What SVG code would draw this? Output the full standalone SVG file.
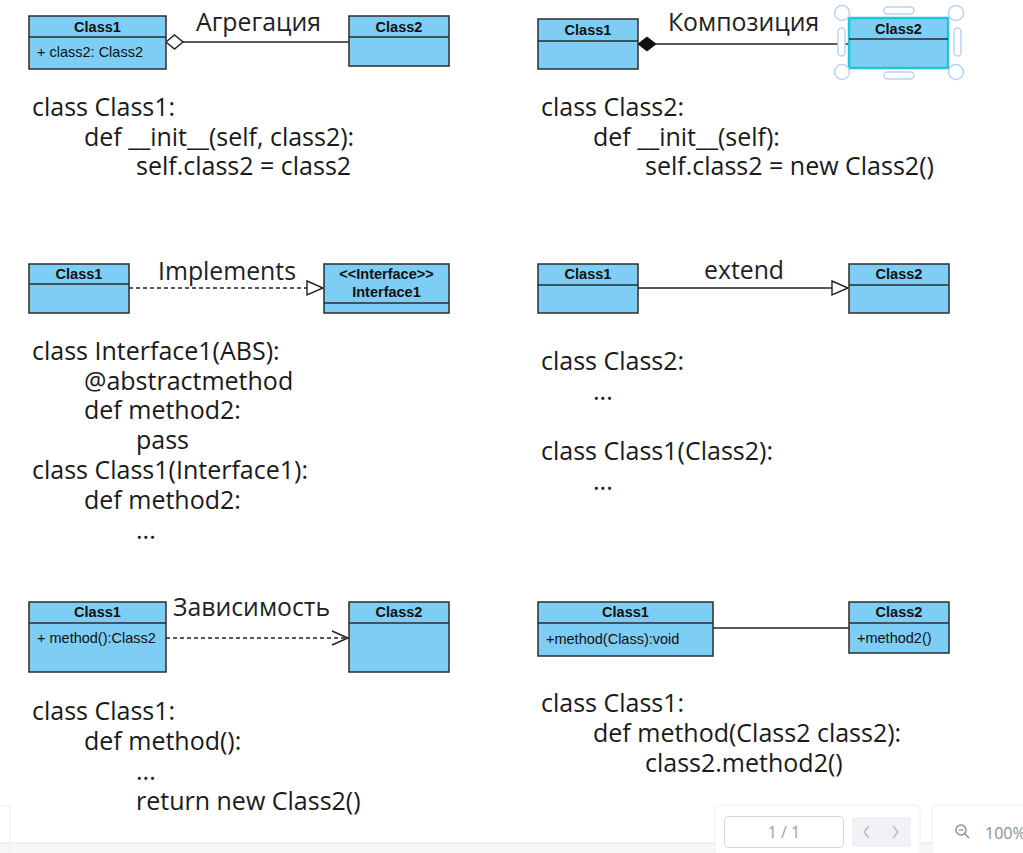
<svg xmlns="http://www.w3.org/2000/svg" width="1023" height="853" viewBox="0 0 1023 853">
<defs>
<style>
.box{fill:#7dcdf4;stroke:#2b2b2b;stroke-width:1.5}
.div{stroke:#2b2b2b;stroke-width:1.5}
.hd{font-family:"Liberation Sans",Arial,sans-serif;font-weight:bold;font-size:14.5px;fill:#111;text-anchor:middle}
.at{font-family:"Liberation Sans",Arial,sans-serif;font-size:14.5px;fill:#111}
.lbl{font-family:"Open Sans","Noto Sans",sans-serif;font-size:24.8px;fill:#222}
.code{font-family:"Open Sans","Noto Sans",sans-serif;font-size:25px;fill:#1a1a1a}
.ln{stroke:#222;stroke-width:1.4;fill:none}
.dash{stroke:#222;stroke-width:1.4;fill:none;stroke-dasharray:4,3}
.hdl{fill:#fff;stroke:#bcd3f2;stroke-width:1.5}
.ui{font-family:"Open Sans","Noto Sans",sans-serif;font-size:16px;fill:#9aa0a6}
</style>
<marker id="hollowTri" markerWidth="20" markerHeight="18" refX="17" refY="8" orient="auto" markerUnits="userSpaceOnUse">
<path d="M1,1 L17,8 L1,15 Z" fill="#fff" stroke="#222" stroke-width="1.4"/>
</marker>
<marker id="openArrow" markerWidth="20" markerHeight="18" refX="17" refY="8" orient="auto" markerUnits="userSpaceOnUse">
<path d="M1,1 L17,8 L1,15" fill="none" stroke="#222" stroke-width="1.4"/>
</marker>
</defs>
<rect width="1023" height="853" fill="#fff"/>

<g id="connectors">
<path class="ln" d="M183,42 L349,42"/>
<path d="M166,42 L174.5,35 L183,42 L174.5,49 Z" fill="#fff" stroke="#222" stroke-width="1.4"/>
<path class="ln" d="M656,44 L849,44"/>
<path d="M638,44 L647,37 L656,44 L647,51 Z" fill="#111" stroke="#111" stroke-width="1"/>
<path class="dash" d="M129,288 L323,288" marker-end="url(#hollowTri)"/>
<path class="ln" d="M638,288 L848,288" marker-end="url(#hollowTri)"/>
<path class="dash" d="M166,638 L348,638" marker-end="url(#openArrow)"/>
<path class="ln" d="M713,628 L849,628"/>
</g>

<g id="labels">
<text class="lbl" x="196" y="31">Агрегация</text>
<text class="lbl" x="668" y="31">Композиция</text>
<text class="lbl" x="158" y="280">Implements</text>
<text class="lbl" x="704" y="279">extend</text>
<text class="lbl" x="173" y="616">Зависимость</text>
</g>

<g id="agg-class1">
<rect class="box" x="29" y="16" width="137" height="53"/>
<line class="div" x1="29" y1="37" x2="166" y2="37"/>
<text class="hd" x="97.5" y="31.5">Class1</text>
<text class="at" x="37" y="57">+ class2: Class2</text>
</g>
<g id="agg-class2">
<rect class="box" x="349" y="16" width="100" height="50"/>
<line class="div" x1="349" y1="37" x2="449" y2="37"/>
<text class="hd" x="399" y="31.5">Class2</text>
</g>

<g id="comp-class1">
<rect class="box" x="538" y="19" width="100" height="50"/>
<line class="div" x1="538" y1="41" x2="638" y2="41"/>
<text class="hd" x="588" y="35">Class1</text>
</g>
<g id="comp-class2">
<rect x="849" y="18" width="99" height="50" fill="#7dcdf4" stroke="#22c5d4" stroke-width="2.5"/>
<line class="div" x1="849" y1="39" x2="948" y2="39"/>
<text class="hd" x="898.5" y="34">Class2</text>
<circle class="hdl" cx="842" cy="13" r="7.5"/>
<circle class="hdl" cx="956" cy="13" r="7.5"/>
<circle class="hdl" cx="842" cy="72" r="7.5"/>
<circle class="hdl" cx="956" cy="72" r="7.5"/>
<rect class="hdl" x="884" y="7" width="30" height="7" rx="3.5"/>
<rect class="hdl" x="884" y="72" width="30" height="7" rx="3.5"/>
<rect class="hdl" x="838" y="28" width="7" height="28" rx="3.5"/>
<rect class="hdl" x="954" y="28" width="7" height="28" rx="3.5"/>
</g>

<g id="impl-class1">
<rect class="box" x="29" y="264" width="100" height="49"/>
<line class="div" x1="29" y1="284" x2="129" y2="284"/>
<text class="hd" x="79" y="279">Class1</text>
</g>
<g id="impl-interface1">
<rect class="box" x="324" y="264" width="125" height="49"/>
<line class="div" x1="324" y1="303" x2="449" y2="303"/>
<text class="hd" x="386.5" y="279">&lt;&lt;Interface&gt;&gt;</text>
<text class="hd" x="386.5" y="297">Interface1</text>
</g>

<g id="ext-class1">
<rect class="box" x="538" y="264" width="100" height="49"/>
<line class="div" x1="538" y1="285" x2="638" y2="285"/>
<text class="hd" x="588" y="279">Class1</text>
</g>
<g id="ext-class2">
<rect class="box" x="849" y="264" width="100" height="49"/>
<line class="div" x1="849" y1="285" x2="949" y2="285"/>
<text class="hd" x="899" y="279">Class2</text>
</g>

<g id="dep-class1">
<rect class="box" x="29" y="602" width="137" height="70"/>
<line class="div" x1="29" y1="623" x2="166" y2="623"/>
<text class="hd" x="97.5" y="617">Class1</text>
<text class="at" x="37" y="643">+ method():Class2</text>
</g>
<g id="dep-class2">
<rect class="box" x="349" y="602" width="100" height="70"/>
<line class="div" x1="349" y1="623" x2="449" y2="623"/>
<text class="hd" x="399" y="617">Class2</text>
</g>

<g id="assoc-class1">
<rect class="box" x="538" y="602" width="175" height="54"/>
<line class="div" x1="538" y1="623" x2="713" y2="623"/>
<text class="hd" x="625.5" y="617">Class1</text>
<text class="at" x="546" y="644">+method(Class):void</text>
</g>
<g id="assoc-class2">
<rect class="box" x="849" y="602" width="100" height="51"/>
<line class="div" x1="849" y1="623" x2="949" y2="623"/>
<text class="hd" x="899" y="617">Class2</text>
<text class="at" x="857" y="643">+method2()</text>
</g>

<g id="code">
<text class="code" x="32" y="116">class Class1:</text>
<text class="code" x="84" y="146">def __init__(self, class2):</text>
<text class="code" x="136" y="175">self.class2 = class2</text>

<text class="code" x="541" y="116">class Class2:</text>
<text class="code" x="593" y="146">def __init__(self):</text>
<text class="code" x="645" y="175">self.class2 = new Class2()</text>

<text class="code" x="32" y="360">class Interface1(ABS):</text>
<text class="code" x="84" y="390">@abstractmethod</text>
<text class="code" x="84" y="419">def method2:</text>
<text class="code" x="136" y="449">pass</text>
<text class="code" x="32" y="479">class Class1(Interface1):</text>
<text class="code" x="84" y="509">def method2:</text>
<text class="code" x="136" y="539">...</text>

<text class="code" x="541" y="370">class Class2:</text>
<text class="code" x="593" y="400">...</text>
<text class="code" x="541" y="460">class Class1(Class2):</text>
<text class="code" x="593" y="490">...</text>

<text class="code" x="32" y="720">class Class1:</text>
<text class="code" x="84" y="750">def method():</text>
<text class="code" x="136" y="780">...</text>
<text class="code" x="136" y="810">return new Class2()</text>

<text class="code" x="541" y="712">class Class1:</text>
<text class="code" x="593" y="742">def method(Class2 class2):</text>
<text class="code" x="645" y="772">class2.method2()</text>
</g>

<g id="toolbar">
<rect x="0" y="843" width="1023" height="10" fill="#f6f7f9"/>
<line x1="0" y1="843" x2="1023" y2="843" stroke="#e3e5e8" stroke-width="1"/>
<path d="M10,853 L10,806 L0,806" fill="none" stroke="#eceef1" stroke-width="1"/>
<rect x="715" y="805" width="205" height="60" rx="4" fill="#fff" stroke="#eceef1" stroke-width="1"/>
<rect x="724.5" y="816.5" width="119" height="31" rx="4" fill="#fff" stroke="#d4d7dc" stroke-width="1"/>
<text class="ui" x="784" y="838" text-anchor="middle">1 / 1</text>
<rect x="852" y="817" width="59" height="30" rx="3" fill="#f0f2f5"/>
<path d="M869,826 L864,832 L869,838" fill="none" stroke="#b6bbc2" stroke-width="1.5"/>
<path d="M893,826 L898,832 L893,838" fill="none" stroke="#b6bbc2" stroke-width="1.5"/>
<rect x="932" y="805" width="100" height="60" rx="4" fill="#fff" stroke="#eceef1" stroke-width="1"/>
<circle cx="961" cy="830" r="5" fill="none" stroke="#8a9098" stroke-width="1.4"/>
<line x1="964.5" y1="833.5" x2="969" y2="838" stroke="#8a9098" stroke-width="1.4"/>
<line x1="958.5" y1="830" x2="963.5" y2="830" stroke="#8a9098" stroke-width="1.2"/>
<text class="ui" x="985" y="839" style="fill:#8a9098">100%</text>
</g>
</svg>
